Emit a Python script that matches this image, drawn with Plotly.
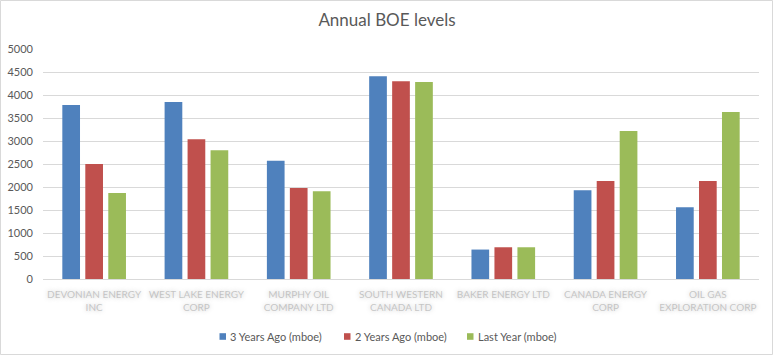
import plotly.graph_objects as go

categories = [
    "DEVONIAN ENERGY<br>INC",
    "WEST LAKE ENERGY<br>CORP",
    "MURPHY OIL<br>COMPANY LTD",
    "SOUTH WESTERN<br>CANADA LTD",
    "BAKER ENERGY LTD",
    "CANADA ENERGY<br>CORP",
    "OIL GAS<br>EXPLORATION CORP",
]
three_years_ago = [3780, 3850, 2570, 4410, 640, 1930, 1560]
two_years_ago = [2500, 3040, 1980, 4300, 690, 2130, 2130]
last_year = [1870, 2800, 1910, 4280, 690, 3220, 3630]
series_names = ["3 Years Ago (mboe)", "2 Years Ago (mboe)", "Last Year (mboe)"]
colors = ["#4F81BD", "#C0504D", "#9BBB59"]
y_ticks = [0, 500, 1000, 1500, 2000, 2500, 3000, 3500, 4000, 4500, 5000]

fig = go.Figure()
for name, vals, c in zip(series_names, [three_years_ago, two_years_ago, last_year], colors):
    fig.add_trace(go.Bar(x=categories, y=vals, name=name, showlegend=False,
                         marker=dict(color=c, line=dict(width=0))))

FONT = "Lato, 'Open Sans', sans-serif"
L, R, T, B = 43, 15, 49, 77
W, H = 774, 356
pw, ph = W - L - R, H - T - B


def px_x(px):
    return (px - L) / pw


def px_y(py):
    return (H - B - py) / ph


fig.update_layout(
    width=W, height=H,
    margin=dict(l=L, r=R, t=T, b=B, autoexpand=False),
    paper_bgcolor="white", plot_bgcolor="white",
    barmode="group", bargap=0.326, bargroupgap=0.23,
    font=dict(family=FONT, color="#595959", size=11),
    title=dict(text="Annual BOE levels", x=0.5, xanchor="center", y=1 - 20 / H, yanchor="middle",
               font=dict(size=17, color="#595959", family=FONT)),
    showlegend=False,
    xaxis=dict(showgrid=False, showline=False, ticks="", tickangle=0, automargin=False,
               ticklabelstandoff=8,
               tickfont=dict(size=10, color="rgba(140,140,140,0.45)", family=FONT, shadow="0px 0px 4px #808080")),
    yaxis=dict(range=[0, 5000], tickvals=y_ticks, showgrid=True, gridcolor="#D9D9D9", gridwidth=1,
               automargin=False,
               zeroline=True, zerolinecolor="#D9D9D9", zerolinewidth=1, showline=False, ticks="",
               ticklabelstandoff=9, tickfont=dict(size=11, color="#595959", family=FONT)),
)

# outer chart border
fig.add_shape(type="rect", xref="paper", yref="paper",
              x0=px_x(0.5), x1=px_x(772.5), y0=px_y(354.5), y1=px_y(0.5),
              line=dict(color="#D9D9D9", width=1), fillcolor="rgba(0,0,0,0)", layer="below")

# legend (square swatch + text)
legend_sq_x = [219.5, 344, 467]
legend_cy = 336.5
for name, c, sx in zip(series_names, colors, legend_sq_x):
    fig.add_shape(type="rect", xref="paper", yref="paper",
                  x0=px_x(sx), x1=px_x(sx + 6.5), y0=px_y(legend_cy + 3.3), y1=px_y(legend_cy - 3.3),
                  line=dict(width=0), fillcolor=c)
    fig.add_annotation(text=name, xref="paper", yref="paper", x=px_x(sx + 8.5), y=px_y(legend_cy),
                       xanchor="left", yanchor="middle", showarrow=False,
                       font=dict(size=11, color="#595959", family=FONT))

fig.write_html("out.html", config={"displayModeBar": False},
               post_script="document.body.style.margin='0px';document.body.style.overflow='hidden';")
